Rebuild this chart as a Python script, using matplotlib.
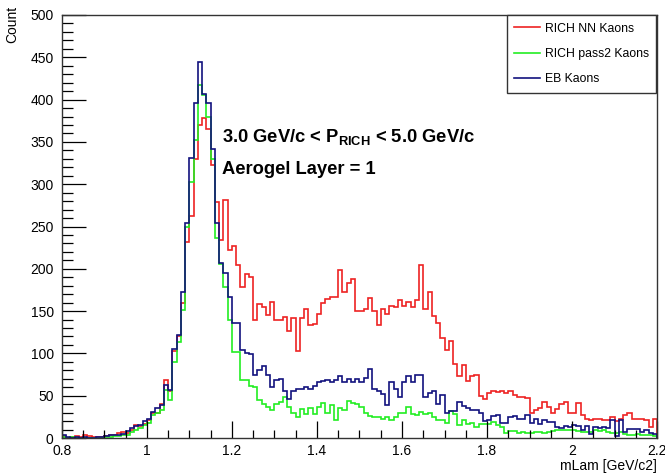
#!/usr/bin/env python3

import numpy as np
import matplotlib
matplotlib.use('Agg')
import matplotlib.pyplot as plt
from matplotlib.lines import Line2D
from matplotlib.ticker import MultipleLocator, FormatStrFormatter

# histogram range: 140 bins of 0.01 from 0.8 to 2.2
xmin, xmax, nbins = 0.8, 2.2, 140

rich_nn = [
    2, 0, 1, 2, 1, 4, 2, 1, 1, 1,
    2, 3, 4, 6, 7, 6, 10, 15, 14, 17,
    21, 30, 30, 40, 68, 55, 103, 120, 160, 232,
    262, 330, 370, 378, 365, 323, 279, 234, 281, 222,
    227, 204, 179, 194, 190, 140, 158, 155, 145, 161,
    139, 139, 143, 126, 142, 103, 142, 152, 133, 135,
    146, 159, 164, 167, 167, 198, 172, 183, 188, 150,
    150, 152, 165, 150, 134, 152, 147, 156, 155, 163,
    156, 161, 155, 163, 204, 153, 172, 144, 136, 118,
    104, 115, 87, 73, 86, 67, 73, 75, 50, 46,
    53, 56, 54, 56, 53, 56, 51, 48, 48, 47,
    29, 33, 36, 42, 37, 29, 34, 40, 42, 30,
    29, 41, 27, 23, 21, 23, 23, 21, 21, 25,
    20, 23, 27, 29, 23, 23, 23, 21, 13, 23,
]

rich_pass2 = [
    1, 0, 1, 0, 0, 0, 0, 0, 0, 0,
    1, 1, 2, 2, 3, 4, 7, 10, 12, 15,
    18, 27, 30, 33, 57, 45, 90, 114, 151, 250,
    303, 352, 417, 405, 380, 330, 237, 206, 179, 140,
    102, 102, 68, 68, 62, 60, 45, 40, 37, 33,
    40, 42, 48, 37, 29, 25, 34, 28, 35, 28,
    37, 41, 29, 39, 21, 35, 33, 44, 41, 40,
    37, 29, 26, 25, 25, 22, 25, 21, 25, 29,
    29, 37, 28, 27, 31, 28, 30, 25, 21, 21,
    18, 32, 28, 15, 21, 17, 18, 13, 17, 16,
    17, 19, 15, 13, 6, 8, 8, 6, 7, 6,
    6, 7, 7, 6, 7, 8, 9, 9, 10, 10,
    10, 8, 7, 7, 7, 9, 8, 9, 7, 6,
    6, 7, 5, 4, 4, 5, 3, 3, 3, 2,
]

eb_kaons = [
    3, 1, 0, 1, 0, 1, 0, 0, 1, 1,
    2, 3, 3, 4, 5, 8, 12, 14, 15, 20,
    22, 31, 35, 39, 63, 57, 105, 122, 172, 254,
    331, 396, 445, 407, 396, 342, 254, 207, 195, 167,
    136, 136, 104, 100, 99, 75, 80, 85, 74, 60,
    68, 70, 55, 46, 55, 58, 58, 60, 58, 62,
    66, 67, 68, 66, 69, 73, 66, 70, 66, 70,
    66, 71, 81, 58, 56, 52, 39, 66, 58, 48,
    66, 73, 66, 75, 74, 48, 53, 55, 40, 51,
    29, 32, 32, 43, 38, 35, 33, 33, 30, 20,
    21, 26, 27, 18, 18, 25, 26, 23, 23, 27,
    18, 22, 17, 21, 19, 19, 13, 12, 14, 13,
    15, 14, 10, 14, 5, 13, 12, 13, 12, 21,
    2, 21, 7, 11, 11, 11, 7, 9, 6, 5,
]

labels = ['RICH NN Kaons', 'RICH pass2 Kaons', 'EB Kaons']
colors = ['#ee2222', '#22ee22', '#12127e']

plt.rcParams['font.family'] = ['Liberation Sans', 'DejaVu Sans']
plt.rcParams['mathtext.fontset'] = 'custom'
plt.rcParams['mathtext.rm'] = 'Liberation Sans'
plt.rcParams['mathtext.bf'] = 'Liberation Sans:bold'


def graph():
    edges = np.linspace(xmin, xmax, nbins + 1)

    fig = plt.figure(figsize=(6.65, 4.76), dpi=100)
    ax = fig.add_axes([0.0932, 0.0798, 0.8948, 0.8887])

    for vals, lab, col in zip([rich_nn, rich_pass2, eb_kaons], labels, colors):
        ax.stairs(vals, edges, color=col, linewidth=1.2, label=lab, baseline=0)

    ax.set_xlim(xmin, xmax)
    ax.set_ylim(0, 500)

    ax.xaxis.set_major_locator(MultipleLocator(0.2))
    ax.xaxis.set_minor_locator(MultipleLocator(0.05))
    ax.yaxis.set_major_locator(MultipleLocator(50))
    ax.yaxis.set_minor_locator(MultipleLocator(10))
    ax.xaxis.set_major_formatter(FormatStrFormatter('%g'))

    ax.tick_params(axis='both', which='both', direction='in', top=False, right=False,
                   labelsize=10, width=0.9)
    ax.tick_params(axis='x', which='major', length=12, pad=4)
    ax.tick_params(axis='x', which='minor', length=6)
    ax.tick_params(axis='y', which='major', length=17, pad=6)
    ax.tick_params(axis='y', which='minor', length=8)

    for sp in ax.spines.values():
        sp.set_linewidth(1.0)
        sp.set_color('#333333')

    fig.text(0.018, 0.987, 'Count', rotation=90, ha='center', va='top', fontsize=10)
    fig.text(0.988, 0.021, 'mLam [GeV/c2]', ha='right', va='center', fontsize=10)

    ax.text(1.176, 356, r'3.0 GeV/c < $\mathbf{P_{RICH}}$ < 5.0 GeV/c',
            fontsize=13.2, fontweight='bold', va='center', ha='left')
    ax.text(1.176, 317, 'Aerogel Layer = 1',
            fontsize=13.2, fontweight='bold', va='center', ha='left')

    handles = [Line2D([], [], color=c, linewidth=1.2) for c in colors]
    leg = fig.legend(handles, labels, loc='upper left',
                     bbox_to_anchor=(0.762, 0.968, 0.224, 0.0), mode='expand',
                     fontsize=8.8, fancybox=False, framealpha=1, edgecolor='#333333',
                     handlelength=2.1, handletextpad=0.4, labelspacing=1.1,
                     borderpad=0.6, borderaxespad=0)
    leg.get_frame().set_linewidth(1.0)

    plt.savefig('out.png', dpi=100)


def main():
    graph()


if __name__ == '__main__':
    main()
